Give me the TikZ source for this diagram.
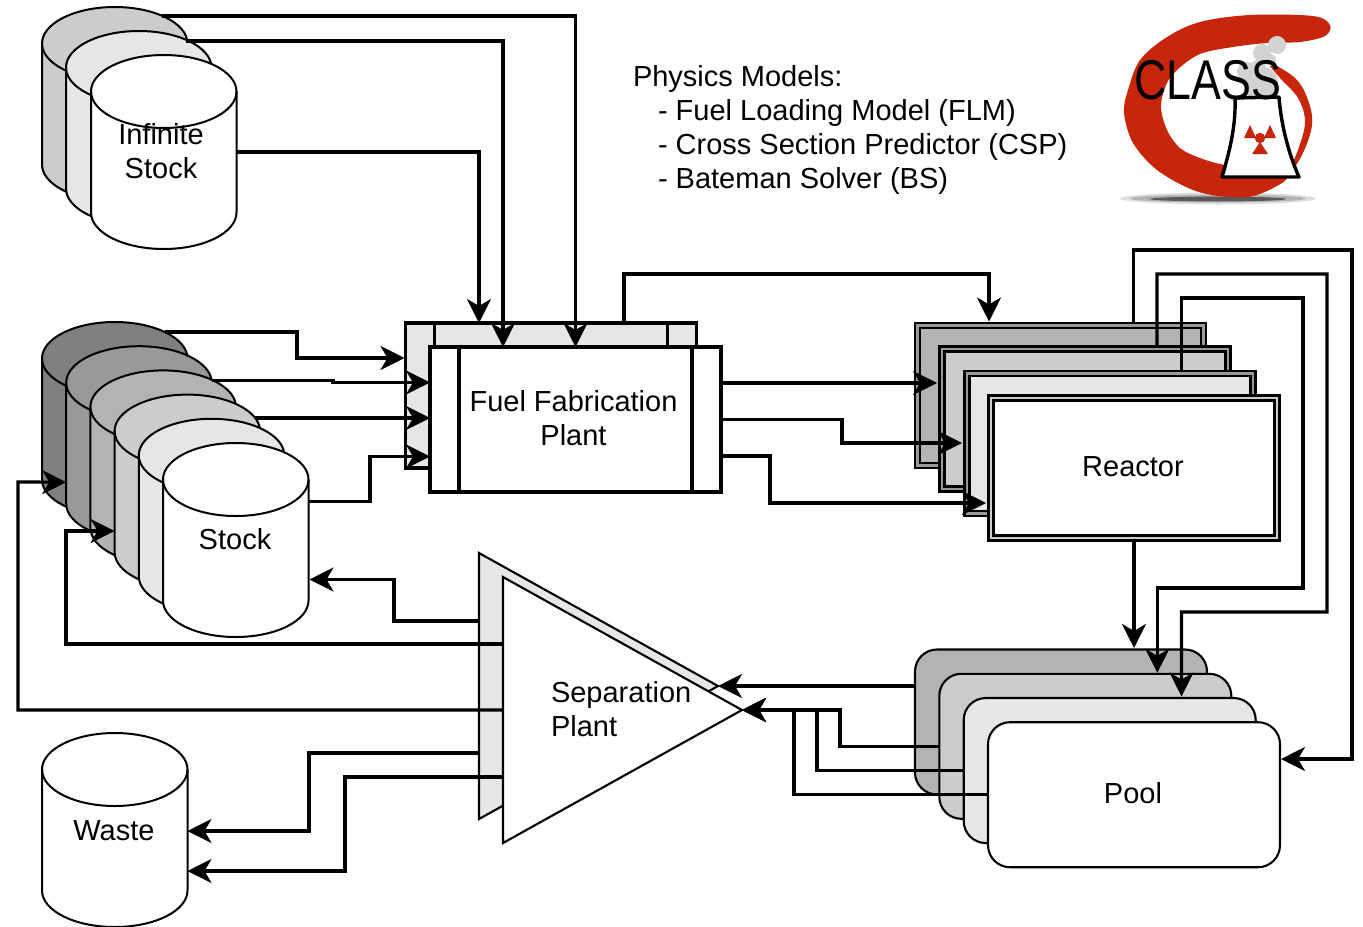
\documentclass[tikz,border=0pt]{standalone}
\usepackage{fontspec}
\setmainfont{Liberation Sans}
\usetikzlibrary{arrows.meta}
\definecolor{gA}{HTML}{E6E6E6}
\definecolor{gB}{HTML}{CCCCCC}
\definecolor{gC}{HTML}{B3B3B3}
\definecolor{gD}{HTML}{999999}
\definecolor{gE}{HTML}{808080}
\definecolor{logored}{HTML}{C8260A}
\definecolor{smoke}{HTML}{D2D2D2}
\tikzset{
  every node/.style={inner sep=0pt,outer sep=0pt,font=\fontsize{14.5}{17}\selectfont},
  conn/.style={draw=black,line width=1.6pt,-{Stealth[length=12pt,width=12pt,inset=3.5pt]}},
  cylbody/.style={draw=black,line width=1pt,line join=round},
  cylnode/.style={minimum width=72.75pt,minimum height=97pt},
  plantbox/.style={draw=black,line width=1.6pt,minimum width=145.5pt,minimum height=72.5pt},
  reactorbox/.style={draw=black,line width=1.3pt,double distance=1.1pt,minimum width=143pt,minimum height=70pt},
  poolbox/.style={draw=black,line width=1.05pt,rounded corners=11pt,minimum width=146pt,minimum height=72.5pt},
  sepshape/.style={draw=black,line width=1.05pt,line join=miter},
  divider/.style={line width=1.6pt},
}
% left, top, fill, name
\newcommand{\tank}[4]{%
  \path[cylbody,fill=#3] (#1,#2+36.5) arc[start angle=180,end angle=0,x radius=36.375pt,y radius=18.25pt]
     -- (#1+145.5,#2+157.5) arc[start angle=0,end angle=-180,x radius=36.375pt,y radius=18.25pt] -- cycle;
  \path[cylbody] (#1,#2+36.5) arc[start angle=180,end angle=360,x radius=36.375pt,y radius=18.25pt];
  \node[cylnode] (#4) at (#1+72.75,#2+97) {};
}
\begin{document}
\begin{tikzpicture}[x=0.5pt,y=-0.5pt]
\useasboundingbox (0,0) rectangle (1363,926);

% --- logo ---
\fill[gray!25] (1218,198.5) ellipse[x radius=49pt,y radius=3pt];
\fill[gray!60] (1218,198.5) ellipse[x radius=44pt,y radius=2pt];
\fill[black!65] (1218,199) ellipse[x radius=34pt,y radius=1.2pt];
\fill[logored] plot[smooth cycle,tension=0.55] coordinates {
 (1330,25) (1313,16) (1250,15) (1200,22) (1167,37) (1140,60) (1128,90) (1124,113)
 (1133,143) (1157,170) (1193,190) (1227,197) (1257,195) (1287,178) (1260,168) (1225,165)
 (1200,158) (1180,148) (1167,130) (1161,107) (1166,85) (1177,70) (1200,54) (1233,47) (1267,43) (1300,42) (1325,36)};
\fill[logored] plot[smooth cycle,tension=0.6] coordinates {
 (1268,62) (1295,78) (1308,100) (1312,125) (1302,155) (1286,178) (1298,150) (1305,122) (1298,98) (1280,78)};
\fill[smoke] (1277,45) circle[radius=4.5pt] (1262,53) circle[radius=4.5pt] (1247,72) circle[radius=5pt]
  (1263,82) circle[radius=7.5pt] (1254,90) circle[radius=5pt] (1270,60) circle[radius=3pt] (1258,68) circle[radius=4pt];
\path[draw=black,fill=white,line width=1.7pt,line join=round]
  (1235,98) -- (1279,97) .. controls (1281,125) and (1289,155) .. (1299,177) -- (1222,177)
  .. controls (1230,150) and (1236,125) .. (1235,98) -- cycle;
\fill[logored] (1260,138) circle[radius=2.6pt]
  (1244,138) -- (1256,138) -- (1250,125) -- cycle
  (1264,138) -- (1276,138) -- (1270,125) -- cycle
  (1252,154) -- (1268,154) -- (1260,142) -- cycle;
\node (logotext) at (1208,80) {\fontsize{28}{28}\selectfont\scalebox{0.8}[1]{CLASS}};

% --- tanks ---
\tank{42}{7}{gB}{infA}
\tank{66}{31}{gA}{infB}
\tank{91}{55}{white}{infC}
\node[align=center] (infText) at (161,151) {Infinite\\Stock};

\tank{42}{322}{gE}{stA}
\tank{66.2}{346.2}{gD}{stB}
\tank{90.4}{370.4}{gC}{stC}
\tank{114.6}{394.6}{gB}{stD}
\tank{138.8}{418.8}{gA}{stE}
\tank{163}{443}{white}{stF}
\node (stockText) at (235,539) {Stock};

\tank{42}{733}{white}{waste}
\node (wasteText) at (114,830.5) {Waste};

% --- fuel fabrication plant ---
\node[plantbox,fill=gA] (fb) at (551,395.5) {};
\draw[divider] ([shift={(29,0)}]fb.north west) -- ([shift={(29,0)}]fb.south west);
\draw[divider] ([shift={(-29,0)}]fb.north east) -- ([shift={(-29,0)}]fb.south east);
\node[plantbox,fill=white] (ffp) at (575.5,419.5) {};
\draw[divider] ([shift={(29,0)}]ffp.north west) -- ([shift={(29,0)}]ffp.south west);
\draw[divider] ([shift={(-29,0)}]ffp.north east) -- ([shift={(-29,0)}]ffp.south east);
\node[align=center] (ffpText) at (573.5,418.5) {Fuel Fabrication\\Plant};

% --- reactors ---
\node[reactorbox,fill=gC,double=gD] (rA) at (1060.5,395.5) {};
\node[reactorbox,fill=gB,double=gD] (rB) at (1085,419) {};
\node[reactorbox,fill=gA,double=gD] (rC) at (1110,443.5) {};
\node[reactorbox,fill=white,double=gB] (rD) at (1134,468) {};
\node (reactorText) at (1133,466.5) {Reactor};

% --- pools ---
\node[poolbox,fill=gC] (pA) at (1061,722) {};
\node[poolbox,fill=gB] (pB) at (1085.3,746.3) {};
\node[poolbox,fill=gA] (pC) at (1109.7,770.5) {};
\node[poolbox,fill=white] (pD) at (1134,794.7) {};
\node (poolText) at (1133,792.7) {Pool};

% --- separation plant ---
\coordinate (sepB) at (479,686);
\coordinate (sepBtip) at (718,686);
\coordinate (sepF) at (503,710);
\coordinate (sepFtip) at (742,710);
\path[sepshape,fill=gA] (479,553) -- (sepBtip) -- (479,819) -- cycle;
\path[sepshape,fill=white] (503,577) -- (sepFtip) -- (503,843) -- cycle;
\node[anchor=west,align=left] (septext) at (551,709) {Separation\\Plant};

% --- physics models text ---
\node[anchor=west,align=left] (models) at (633,130) {Physics Models:\\
\hspace*{12.5pt}- Fuel Loading Model (FLM)\\
\hspace*{12.5pt}- Cross Section Predictor (CSP)\\
\hspace*{12.5pt}- Bateman Solver (BS)};

% --- connectors: infinite stock to plant ---
\draw[conn] ([shift={(47,-88)}]infA.center) -| (ffp.north);
\draw[conn] ([shift={(47,-87)}]infB.center) -| ([shift={(-72.5,0)}]ffp.north);
\draw[conn] (infC.east) -| ([shift={(-72,0)}]fb.north);

% --- stock to plant ---
\draw[conn] ([shift={(50,-87)}]stA.center) -| (297,358) -- ([shift={(-1,-37.5)}]fb.west);
\draw[conn] ([shift={(73,-63)}]stB.center) -| (333,382.5) -- ([shift={(0,-37)}]ffp.west);
\draw[conn] ([shift={(68,-73.6)}]stD.center) -- ([shift={(0,-1.5)}]ffp.west);
\draw[conn] ([shift={(0,-38.5)}]stF.east) -| (370,456.5) -- ([shift={(0,37)}]ffp.west);

% --- plant to reactors ---
\draw[conn] ([shift={(73,0)}]fb.north) |- ([shift={(-71.5,-51.5)}]rA.north) -- ([shift={(-71.5,-4)}]rA.north);
\draw[conn] ([shift={(0,-36.5)}]ffp.east) -- ([shift={(-5,-36)}]rB.west);
\draw[conn] (ffp.east) -| (842,443) -- ([shift={(-5,-0.5)}]rC.west);
\draw[conn] ([shift={(0,36.5)}]ffp.east) -| (770,503) -- ([shift={(-5,35)}]rD.west);

% --- reactors to pools ---
\draw[conn] ([shift={(0,4)}]rD.south) -- ([shift={(0,-1.5)}]pA.north -| rD.south);
\draw[conn] ([shift={(73,-4)}]rA.north) |- (1352,250) |- ([shift={(1,-35.7)}]pD.east);
\draw[conn] ([shift={(72,-4)}]rB.north) |- (1327,274) |- (1181.5,612) -- ([shift={(71.8,-1.5)}]pC.north);
\draw[conn] ([shift={(71.5,-4)}]rC.north) |- (1303,298) |- (1157.3,588) -- ([shift={(72,-1)}]pB.north);

% --- pools to separation ---
\draw[conn] ([shift={(0,-36)}]pA.west) -- (sepBtip);
\draw[conn] (pB.west) -| (840,710) -- (sepFtip);
\draw[conn] (pC.west) -| (817,710) -- (sepFtip);
\draw[conn] (pD.west) -| (794,710) -- (sepFtip);

% --- separation to stock and waste ---
\draw[conn] ([shift={(0,-65)}]sepB) -| (394,579.5) -- ([shift={(1,39.5)}]stF.east);
\draw[conn] ([shift={(0,-66)}]sepF) -| (66,531) -- ([shift={(0,39.4)}]stD.west);
\draw[conn] (sepF) -| (18,482) -- ([shift={(0,39)}]stB.west);
\draw[conn] ([shift={(0,67)}]sepB) -| (309,831) -- ([shift={(0,1)}]waste.east);
\draw[conn] ([shift={(0,67)}]sepF) -| (345,871) -- ([shift={(0,41)}]waste.east);
\end{tikzpicture}
\end{document}
